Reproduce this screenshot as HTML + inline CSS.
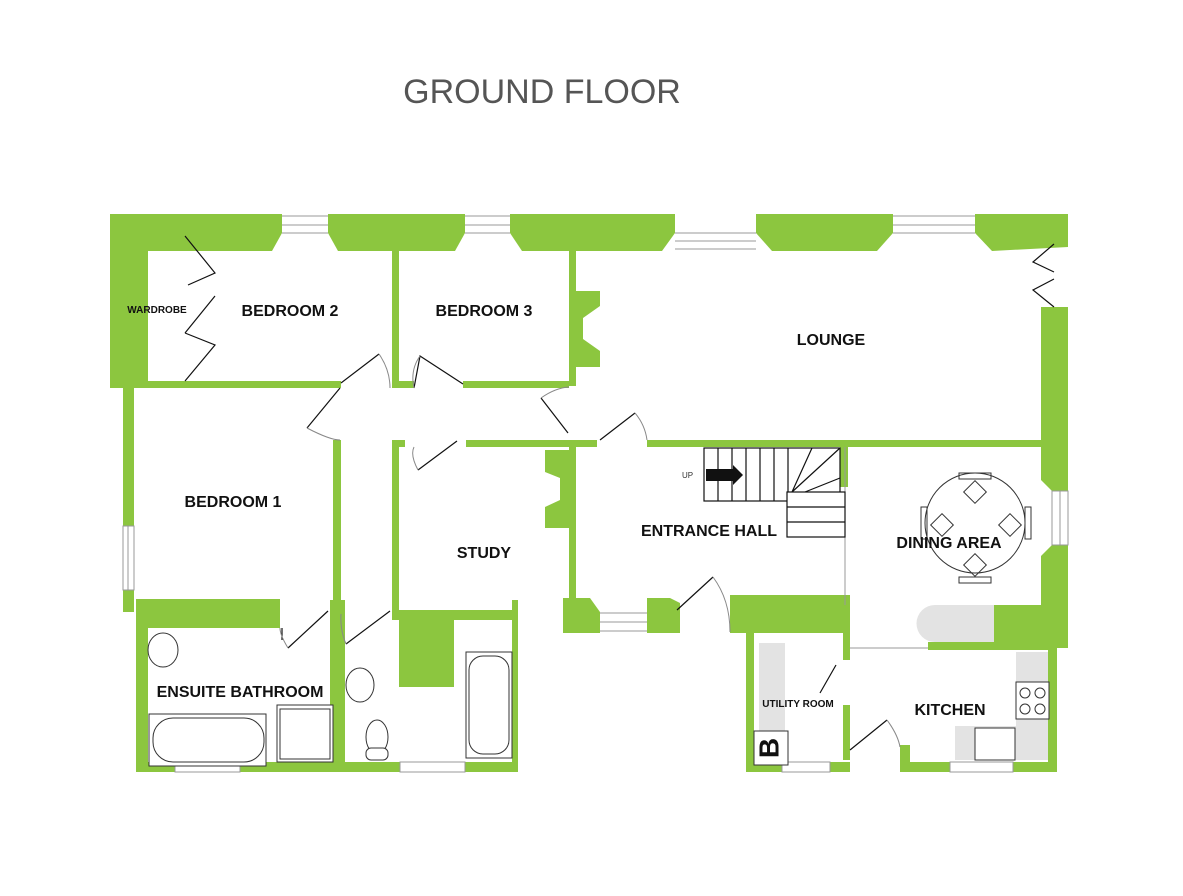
<!DOCTYPE html>
<html><head><meta charset="utf-8"><style>
html,body{margin:0;padding:0;background:#fff;}
svg{display:block;}
.t{font-family:"Liberation Sans",Arial,sans-serif;font-weight:bold;fill:#111;}
</style></head><body>
<svg width="1183" height="896" viewBox="0 0 1183 896" xmlns="http://www.w3.org/2000/svg">
<text x="542" y="103" text-anchor="middle" font-family="Liberation Sans, Arial, sans-serif" font-size="34" fill="#555">GROUND FLOOR</text>
<g fill="#8cc63f">
<polygon points="110,214 282,214 282,233 272,251 148,251 148,384 110,384"/>
<polygon points="328,214 465,214 465,233 455,251 338,251 328,233"/>
<polygon points="510,214 675,214 675,233 662,251 522,251 510,233"/>
<polygon points="756,214 893,214 893,233 877,251 772,251 756,233"/>
<polygon points="975,214 1068,214 1068,247 992,251 975,233"/>
<rect x="392" y="251" width="7" height="137"/>
<rect x="569" y="251" width="7" height="135"/>
<polygon points="576,291 600,291 600,306 583,318 583,339 600,351 600,367 576,367"/>
<rect x="110" y="381" width="231" height="7"/>
<rect x="392" y="381" width="22" height="7"/>
<rect x="463" y="381" width="106" height="7"/>
<rect x="123" y="384" width="11" height="142"/>
<rect x="123" y="590" width="11" height="22"/>
<rect x="333" y="440" width="8" height="160"/>
<rect x="136" y="599" width="144" height="29"/>
<rect x="136" y="600" width="12" height="172"/>
<rect x="330" y="600" width="15" height="172"/>
<rect x="136" y="762" width="382" height="10"/>
<rect x="392" y="440" width="7" height="172"/>
<rect x="392" y="440" width="13" height="7"/>
<rect x="466" y="440" width="110" height="7"/>
<rect x="569" y="440" width="7" height="170"/>
<polygon points="545,450 569,450 569,528 545,528 545,507 560,500 560,478 545,472"/>
<rect x="392" y="610" width="126" height="10"/>
<rect x="399" y="620" width="55" height="67"/>
<rect x="512" y="600" width="6" height="172"/>
<rect x="576" y="440" width="21" height="7"/>
<rect x="647" y="440" width="421" height="7"/>
<rect x="1041" y="307" width="27" height="140"/>
<polygon points="1041,447 1068,447 1068,491 1052,491 1041,480"/>
<polygon points="1052,545 1068,545 1068,648 994,648 994,605 1041,605 1041,556"/>
<rect x="840" y="447" width="8" height="40"/>
<polygon points="563,598 590,598 600,612 600,633 563,633"/>
<polygon points="647,598 670,598 680,603 680,633 647,633"/>
<rect x="730" y="595" width="120" height="38"/>
<rect x="746" y="633" width="8" height="139"/>
<rect x="843" y="633" width="7" height="27"/>
<rect x="843" y="705" width="7" height="55"/>
<rect x="746" y="762" width="104" height="10"/>
<rect x="928" y="642" width="129" height="8"/>
<rect x="1048" y="642" width="9" height="130"/>
<rect x="900" y="745" width="10" height="27"/>
<rect x="900" y="762" width="157" height="10"/>
</g>
<g fill="#fff" stroke="#999" stroke-width="1">
<rect x="175" y="762" width="65" height="10"/>
<rect x="400" y="762" width="65" height="10"/>
<rect x="782" y="762" width="48" height="10"/>
<rect x="950" y="762" width="63" height="10"/>
<rect x="123" y="526" width="11" height="64"/>
<rect x="1052" y="491" width="16" height="54"/>
</g>
<g stroke="#999" stroke-width="1" fill="none">
<path d="M282,216H328M282,225H328M282,233H328"/>
<path d="M465,216H510M465,225H510M465,233H510"/>
<path d="M675,233H756M675,241H756M675,249H756"/>
<path d="M893,216H975M893,225H975M893,233H975"/>
<path d="M600,613H647M600,622H647M600,631H647"/>
<path d="M1060,491V545M128,526V590"/>
<path d="M850,648H928M845,447V605"/>
</g>
<g fill="#e3e3e3">
<path d="M935,605H994V642H935A18,18 0 0 1 935,605Z"/>
<rect x="759" y="643" width="26" height="118"/>
<rect x="1016" y="652" width="32" height="108"/>
<rect x="955" y="726" width="61" height="34"/>
</g>
<g stroke="#111" stroke-width="1.2" fill="none">
<path d="M185,236L215,273L188,285M185,333L215,296M185,333L215,345L185,381"/>
<path d="M340,388L307,428M341,383L379,354M414,388L420,356L463,384"/>
<path d="M541,398L568,433M635,413L600,440M282,628L282,640M288,648L328,611M346,644L390,611M418,470L457,441M677,610L713,577M836,665L820,693M850,750L887,720M1054,244L1033,262L1054,272M1054,279L1033,290L1054,307"/>
</g>
<g stroke="#888" stroke-width="1" fill="none">
<path d="M307,428Q330,440 340,440M379,354Q390,370 390,388M420,356Q410,370 414,388M541,398Q555,388 569,387M635,413Q645,425 647,440M288,648Q280,635 280,628M346,644Q340,630 341,614M418,470Q410,455 414,447M713,577Q730,600 730,632M887,720Q898,735 900,747"/>
</g>
<g stroke="#111" stroke-width="1.2" fill="#fff">
<rect x="704" y="448" width="136" height="53"/>
<path d="M718,448V501M732,448V501M746,448V501M760,448V501M774,448V501M788,448V501" fill="none"/>
<path d="M792,492L812,448M792,492L840,448M805,492L840,478" fill="none"/>
<rect x="787" y="492" width="58" height="45"/>
<path d="M787,507H845M787,522H845" fill="none"/>
</g>
<polygon points="706,469 733,469 733,465 743,475 733,485 733,481 706,481" fill="#111"/>
<text x="682" y="478" font-family="Liberation Sans, Arial, sans-serif" font-size="8" fill="#333">UP</text>
<g stroke="#333" stroke-width="1" fill="none">
<circle cx="975" cy="523" r="50"/>
<rect x="959" y="473" width="32" height="6"/><rect x="959" y="577" width="32" height="6"/>
<rect x="921" y="507" width="6" height="32"/><rect x="1025" y="507" width="6" height="32"/>
<rect x="967" y="484" width="16" height="16" transform="rotate(45 975 492)"/>
<rect x="967" y="557" width="16" height="16" transform="rotate(45 975 565)"/>
<rect x="934" y="517" width="16" height="16" transform="rotate(45 942 525)"/>
<rect x="1002" y="517" width="16" height="16" transform="rotate(45 1010 525)"/>
</g>
<g stroke="#333" stroke-width="1" fill="#fff">
<rect x="149" y="714" width="117" height="52"/>
<rect x="153" y="718" width="111" height="44" rx="20"/>
<rect x="277" y="705" width="56" height="57"/>
<rect x="280" y="709" width="50" height="50"/>
<ellipse cx="163" cy="650" rx="15" ry="17"/>
<ellipse cx="360" cy="685" rx="14" ry="17"/>
<ellipse cx="377" cy="737" rx="11" ry="17"/>
<rect x="366" y="748" width="22" height="12" rx="5"/>
<rect x="466" y="652" width="46" height="106"/>
<rect x="469" y="656" width="40" height="98" rx="14"/>
<rect x="1016" y="682" width="33" height="37"/>
<circle cx="1025" cy="693" r="5"/><circle cx="1040" cy="693" r="5"/>
<circle cx="1025" cy="709" r="5"/><circle cx="1040" cy="709" r="5"/>
<rect x="975" y="728" width="40" height="32"/>
<rect x="754" y="731" width="34" height="34"/>
</g>
<text x="771" y="748" text-anchor="middle" dominant-baseline="middle" transform="rotate(-90 771 748)" class="t" font-size="28">B</text>
<text x="290" y="316" text-anchor="middle" class="t" font-size="16">BEDROOM 2</text>
<text x="484" y="316" text-anchor="middle" class="t" font-size="16">BEDROOM 3</text>
<text x="157" y="313" text-anchor="middle" class="t" font-size="10">WARDROBE</text>
<text x="831" y="345" text-anchor="middle" class="t" font-size="16">LOUNGE</text>
<text x="233" y="507" text-anchor="middle" class="t" font-size="16">BEDROOM 1</text>
<text x="484" y="558" text-anchor="middle" class="t" font-size="16">STUDY</text>
<text x="709" y="536" text-anchor="middle" class="t" font-size="16">ENTRANCE HALL</text>
<text x="949" y="548" text-anchor="middle" class="t" font-size="16">DINING AREA</text>
<text x="240" y="697" text-anchor="middle" class="t" font-size="16">ENSUITE BATHROOM</text>
<text x="798" y="707" text-anchor="middle" class="t" font-size="10">UTILITY ROOM</text>
<text x="950" y="715" text-anchor="middle" class="t" font-size="16">KITCHEN</text>
</svg>
</body></html>
